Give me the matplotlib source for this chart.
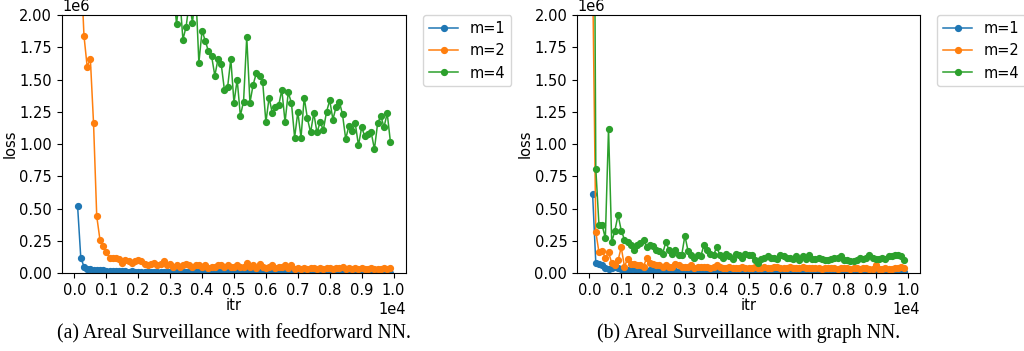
import numpy as np
import matplotlib
matplotlib.use("Agg")
import matplotlib.pyplot as plt

# iterations (x axis)
itr = np.arange(100, 10000, 100)

# (a) feedforward NN, loss in units of 1e6
ff_m1 = [0.52, 0.12, 0.05, 0.03, 0.03, 0.025, 0.025, 0.02, 0.02, 0.018,
         0.015, 0.015, 0.016, 0.014, 0.013, 0.014, 0.012, 0.013, 0.012, 0.011,
         0.012, 0.011, 0.010, 0.011, 0.010, 0.010, 0.011, 0.009, 0.010, 0.009,
         0.009, 0.008, 0.009, 0.008, 0.008, 0.009, 0.008, 0.008, 0.007, 0.008,
         0.008, 0.007, 0.007, 0.008, 0.007, 0.007, 0.007, 0.006, 0.007, 0.007,
         0.006, 0.007, 0.006, 0.006, 0.007, 0.006, 0.006, 0.006, 0.006, 0.005,
         0.006, 0.006, 0.005, 0.006, 0.005, 0.006, 0.005, 0.005, 0.005, 0.006,
         0.005, 0.005, 0.005, 0.005, 0.005, 0.005, 0.005, 0.005, 0.004, 0.005,
         0.005, 0.004, 0.005, 0.005, 0.004, 0.005, 0.004, 0.004, 0.005, 0.004,
         0.004, 0.004, 0.005, 0.004, 0.004, 0.004, 0.004, 0.004, 0.004]
ff_m2 = [4.0, 2.4, 1.84, 1.60, 1.66, 1.16, 0.44, 0.26, 0.21, 0.16,
         0.12, 0.12, 0.12, 0.11, 0.08, 0.10, 0.09, 0.08, 0.09, 0.10,
         0.09, 0.07, 0.06, 0.07, 0.08, 0.06, 0.07, 0.09, 0.06, 0.07,
         0.05, 0.06, 0.05, 0.06, 0.07, 0.06, 0.05, 0.06, 0.06, 0.05,
         0.06, 0.04, 0.05, 0.05, 0.06, 0.06, 0.05, 0.06, 0.05, 0.05,
         0.06, 0.05, 0.05, 0.08, 0.05, 0.06, 0.04, 0.07, 0.05, 0.04,
         0.05, 0.06, 0.04, 0.05, 0.05, 0.06, 0.04, 0.06, 0.03, 0.04,
         0.03, 0.04, 0.03, 0.04, 0.04, 0.03, 0.04, 0.03, 0.04, 0.04,
         0.03, 0.04, 0.04, 0.05, 0.03, 0.04, 0.03, 0.04, 0.03, 0.04,
         0.03, 0.03, 0.04, 0.03, 0.03, 0.03, 0.04, 0.03, 0.04]
ff_m4 = [9.5, 8.8, 8.1, 7.6, 7.0, 6.6, 6.2, 5.8, 5.5, 5.2,
         4.9, 4.6, 4.4, 4.2, 4.0, 3.8, 3.6, 3.5, 3.3, 3.2,
         3.1, 3.0, 2.9, 2.8, 2.7, 2.6, 2.55, 2.5, 2.4, 2.35,
         2.2, 1.93, 2.15, 1.81, 1.91, 2.1, 1.94, 2.2, 1.63, 1.88,
         1.80, 1.72, 1.68, 1.53, 1.66, 1.62, 1.42, 1.44, 1.66, 1.32,
         1.50, 1.22, 1.33, 1.83, 1.32, 1.46, 1.55, 1.53, 1.48, 1.17,
         1.36, 1.24, 1.29, 1.30, 1.42, 1.17, 1.40, 1.32, 1.05, 1.25,
         1.05, 1.36, 1.20, 1.09, 1.24, 1.09, 1.17, 1.11, 1.25, 1.34,
         1.19, 1.29, 1.33, 1.23, 1.04, 1.14, 1.10, 1.16, 0.99, 1.13,
         1.06, 1.08, 1.09, 0.96, 1.16, 1.22, 1.13, 1.24, 1.02]

# (b) graph NN, loss in units of 1e6
gnn_m1 = [0.61, 0.08, 0.07, 0.06, 0.04, 0.03, 0.04, 0.05, 0.04, 0.03,
          0.01, 0.02, 0.03, 0.03, 0.02, 0.02, 0.02, 0.01, 0.02, 0.02,
          0.015, 0.015, 0.01, 0.015, 0.012, 0.01, 0.015, 0.012, 0.01, 0.012,
          0.012, 0.01, 0.012, 0.01, 0.012, 0.01, 0.01, 0.012, 0.01, 0.012,
          0.01, 0.01, 0.012, 0.01, 0.01, 0.01, 0.012, 0.01, 0.01, 0.01,
          0.01, 0.012, 0.01, 0.01, 0.01, 0.01, 0.012, 0.01, 0.01, 0.01,
          0.01, 0.01, 0.01, 0.012, 0.01, 0.01, 0.01, 0.01, 0.01, 0.01,
          0.01, 0.01, 0.01, 0.01, 0.012, 0.01, 0.01, 0.01, 0.01, 0.012,
          0.01, 0.01, 0.01, 0.01, 0.012, 0.01, 0.01, 0.01, 0.01, 0.02,
          0.01, 0.01, 0.01, 0.01, 0.01, 0.01, 0.012, 0.012, 0.01]
gnn_m2 = [2.34, 0.32, 0.16, 0.17, 0.12, 0.16, 0.08, 0.06, 0.10, 0.20,
          0.05, 0.11, 0.07, 0.07, 0.06, 0.06, 0.05, 0.12, 0.08, 0.07,
          0.06, 0.06, 0.05, 0.06, 0.05, 0.05, 0.07, 0.06, 0.05, 0.05,
          0.05, 0.06, 0.04, 0.05, 0.05, 0.05, 0.05, 0.04, 0.05, 0.06,
          0.05, 0.04, 0.04, 0.05, 0.04, 0.04, 0.04, 0.05, 0.04, 0.04,
          0.04, 0.05, 0.04, 0.04, 0.05, 0.04, 0.04, 0.05, 0.05, 0.04,
          0.04, 0.04, 0.05, 0.04, 0.04, 0.04, 0.05, 0.04, 0.04, 0.04,
          0.04, 0.04, 0.03, 0.04, 0.04, 0.04, 0.04, 0.03, 0.04, 0.04,
          0.04, 0.03, 0.04, 0.04, 0.03, 0.04, 0.04, 0.03, 0.03, 0.065,
          0.03, 0.03, 0.04, 0.03, 0.03, 0.04, 0.04, 0.05, 0.04]
gnn_m4 = [5.6, 0.81, 0.37, 0.37, 0.27, 1.12, 0.24, 0.33, 0.45, 0.33,
          0.26, 0.24, 0.22, 0.18, 0.22, 0.23, 0.26, 0.20, 0.22, 0.21,
          0.18, 0.17, 0.15, 0.24, 0.18, 0.15, 0.18, 0.14, 0.14, 0.29,
          0.17, 0.14, 0.12, 0.14, 0.13, 0.22, 0.18, 0.15, 0.14, 0.20,
          0.14, 0.12, 0.15, 0.13, 0.11, 0.15, 0.14, 0.12, 0.15, 0.14,
          0.14, 0.10, 0.08, 0.11, 0.12, 0.13, 0.12, 0.12, 0.11, 0.14,
          0.13, 0.12, 0.12, 0.11, 0.13, 0.10, 0.13, 0.11, 0.14, 0.11,
          0.11, 0.12, 0.11, 0.10, 0.10, 0.11, 0.12, 0.12, 0.13, 0.10,
          0.10, 0.09, 0.09, 0.10, 0.12, 0.11, 0.12, 0.14, 0.12, 0.11,
          0.11, 0.12, 0.11, 0.13, 0.13, 0.14, 0.14, 0.13, 0.10]

labels = ["m=1", "m=2", "m=4"]
captions = ["(a) Areal Surveillance with feedforward NN.",
            "(b) Areal Surveillance with graph NN."]

plt.rcParams['font.size'] = 10.5

fig = plt.figure(figsize=(10.24, 3.51), dpi=100)
ax_a = fig.add_axes([0.0605, 0.222, 0.336, 0.735])
ax_b = fig.add_axes([0.5635, 0.222, 0.335, 0.735])

panels = [(ax_a, [ff_m1, ff_m2, ff_m4]), (ax_b, [gnn_m1, gnn_m2, gnn_m4])]
for ax, series in panels:
    for vals, lab in zip(series, labels):
        ax.plot(itr, np.array(vals) * 1e6, marker='o', markersize=4.2,
                linewidth=1.1, label=lab)
    ax.set_ylim(0, 2e6)
    ax.set_xticks(np.arange(0, 10001, 1000))
    ax.ticklabel_format(style='sci', axis='both', scilimits=(0, 0))
    ax.set_xlabel("itr", labelpad=0)
    ax.set_ylabel("loss", labelpad=1)
    ax.legend(loc='upper left', bbox_to_anchor=(1.05, 1.0), borderaxespad=0)

for ax, cap in zip([ax_a, ax_b], captions):
    pos = ax.get_position()
    fig.text((pos.x0 + pos.x1) / 2, 0.05, cap, ha='center', va='center',
             family='Liberation Serif', fontsize=14.2)

fig.savefig("out.png", dpi=100)
